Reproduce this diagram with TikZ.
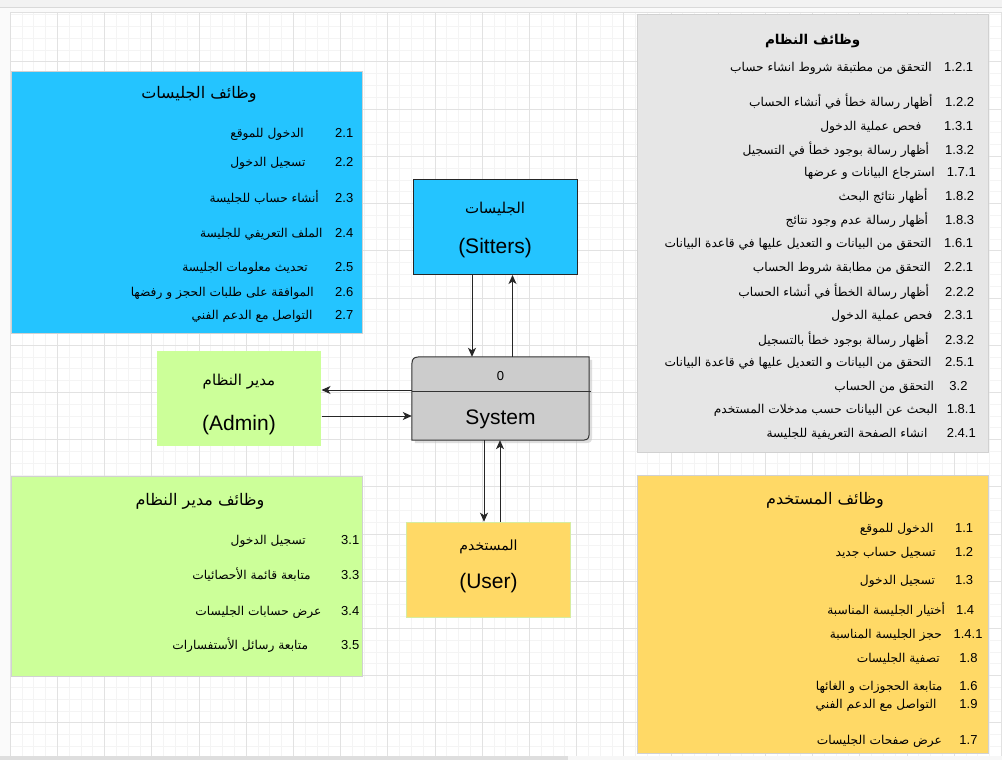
\documentclass[tikz,border=0pt]{standalone}
\usepackage{fontspec}
\setmainfont{Liberation Sans}
\newfontfamily\arabicfont[Script=Arabic]{DejaVu Sans}
\TeXXeTstate=1
\usetikzlibrary{arrows.meta}

\definecolor{sitterblue}{RGB}{36,196,255}
\definecolor{admingreen}{RGB}{204,255,153}
\definecolor{useryellow}{RGB}{255,217,102}
\definecolor{sysgray}{RGB}{230,230,230}
\definecolor{procgray}{RGB}{204,204,204}
\definecolor{gridminor}{RGB}{244,244,244}
\definecolor{gridmajor}{RGB}{226,226,226}

\newcommand\artext[1]{{\beginR #1\endR}}

\begin{document}
\begin{tikzpicture}[x=1pt, y=-1pt,
    funcbox/.style={draw=black!18, line width=1.2pt, anchor=north west, inner sep=0pt},
    entity/.style={line width=1pt, inner sep=0pt, minimum width=164pt, minimum height=95pt},
    num/.style={anchor=base east, inner sep=0pt, font=\fontsize{13}{15}\selectfont},
    item/.style={anchor=base east, inner sep=0pt, font=\fontsize{12.2}{14}\arabicfont},
    boxtitle/.style={anchor=base, inner sep=0pt, font=\fontsize{15}{18}\arabicfont},
    artitle/.style={anchor=base, inner sep=0pt, font=\fontsize{16}{19}\arabicfont},
    entlabel/.style={anchor=base, inner sep=0pt, font=\fontsize{21}{25}\selectfont},
    flow/.style={-{Stealth[length=9pt, width=8pt, inset=2.5pt]}, line width=1pt, draw=black!85}
  ]
  \useasboundingbox (0,0) rectangle (1002,760);

  % canvas and grid
  \fill[white] (0,0) rectangle (1002,760);
  \fill[black!5] (0,0) rectangle (1002,7);
  \fill[black!2] (0,7) rectangle (1002,13);
  \fill[black!2] (0,13) rectangle (10,760);
  \draw[black!15] (0,7) -- (1002,7);
  \foreach \i in {0,...,84} \draw[gridminor] (10+\i*11.8,13) -- (10+\i*11.8,756);
  \foreach \j in {0,...,62} \draw[gridminor] (10,14.5+\j*11.8) -- (1002,14.5+\j*11.8);
  \foreach \i in {1,...,21} \draw[gridmajor] (10+\i*47.2,13) -- (10+\i*47.2,756);
  \foreach \j in {1,...,15} \draw[gridmajor] (10,14.5+\j*47.2) -- (1002,14.5+\j*47.2);
  \draw[black!12, line width=1pt] (10,760) -- (10,13) -- (1002,13);
  \fill[black!3] (0,756) rectangle (1002,760);
  \fill[black!13] (0,756) rectangle (568,760);

  % sitters functions
  \node[funcbox, fill=sitterblue, minimum width=351pt, minimum height=262pt] (sitfunc) at (11,71) {};
  \node[artitle] (sittitle) at (199,98.5) {\artext{وظائف الجليسات}};
  \foreach \nm/\txt/\y/\rx [count=\i] in {
      2.1/الدخول للموقع/133.3/304,
      2.2/تسجيل الدخول/161.7/305.7,
      2.3/أنشاء حساب للجليسة/197.7/319,
      2.4/الملف التعريفي للجليسة/233.3/322.7,
      2.5/تحديث معلومات الجليسة/267.3/308,
      2.6/الموافقة على طلبات الحجز و رفضها/291.7/314,
      2.7/التواصل مع الدعم الفني/315/312.7}
  {
    \node[num] (sitnum\i) at (353.5,\y+4.6) {\nm};
    \node[item] (sittxt\i) at (\rx,\y+4.6) {\artext{\txt}};
  }

  % system functions
  \node[funcbox, fill=sysgray, minimum width=351pt, minimum height=438pt] (sysfunc) at (637,14) {};
  \node[artitle, font=\fontsize{13.5}{16}\arabicfont\bfseries] (systitle) at (812.7,45) {\artext{وظائف النظام}};
  \foreach \nm/\txt/\y/\rx/\nx [count=\i] in {
      1.2.1/التحقق من مطتبقة شروط انشاء حساب/67.3/932/973.3,
      1.2.2/أظهار رسالة خطأ في أنشاء الحساب/101.7/932.7/974.3,
      1.3.1/فحص عملية الدخول/125.7/921.7/973.3,
      1.3.2/أظهار رسالة بوجود خطأ في التسجيل/150/929.3/974.3,
      1.7.1/استرجاع البيانات و عرضها/171.7/935/976,
      1.8.2/أظهار نتائج البحث/196/927.7/974.3,
      1.8.3/أظهار رسالة عدم وجود نتائج/220/928.3/974.3,
      1.6.1/التحقق من البيانات و التعديل عليها في قاعدة البيانات/243.3/931.7/973.3,
      2.2.1/التحقق من مطابقة شروط الحساب/267.3/931/973.3,
      2.2.2/أظهار رسالة الخطأ في أنشاء الحساب/291.7/929.3/974.3,
      2.3.1/فحص عملية الدخول/315/932.7/973.3,
      2.3.2/أظهار رسالة بوجود خطأ بالتسجيل/340/928.7/974.3,
      2.5.1/التحقق من البيانات و التعديل عليها في قاعدة البيانات/361.7/931.7/974.3,
      3.2/التحقق من الحساب/386/934.3/967.7,
      1.8.1/البحث عن البيانات حسب مدخلات المستخدم/409.3/937.7/976,
      2.4.1/انشاء الصفحة التعريفية للجليسة/432.7/927.7/976}
  {
    \node[num] (sysnum\i) at (\nx,\y+4.6) {\nm};
    \node[item] (systxt\i) at (\rx,\y+4.6) {\artext{\txt}};
  }

  % admin functions
  \node[funcbox, fill=admingreen, minimum width=351pt, minimum height=200pt] (admfunc) at (11,476) {};
  \node[artitle] (admtitle) at (200,505.5) {\artext{وظائف مدير النظام}};
  \foreach \nm/\txt/\y/\rx [count=\i] in {
      3.1/تسجيل الدخول/540/306,
      3.3/متابعة قائمة الأحصائيات/575/311,
      3.4/عرض حسابات الجليسات/611/321.7,
      3.5/متابعة رسائل الأستفسارات/645/308.3}
  {
    \node[num] (admnum\i) at (359.5,\y+4.6) {\nm};
    \node[item] (admtxt\i) at (\rx,\y+4.6) {\artext{\txt}};
  }

  % user functions
  \node[funcbox, fill=useryellow, minimum width=351pt, minimum height=278pt] (usrfunc) at (637,475) {};
  \node[artitle] (usrtitle) at (825,504) {\artext{وظائف المستخدم}};
  \foreach \nm/\txt/\y/\rx/\nx [count=\i] in {
      1.1/الدخول للموقع/528.3/933.7/973.3,
      1.2/تسجيل حساب جديد/551.7/936/973.3,
      1.3/تسجيل الدخول/580/935.3/973.3,
      1.4/أختيار الجليسة المناسبة/610/945.3/974.3,
      1.4.1/حجز الجليسة المناسبة/634/942/982.7,
      1.8/تصفية الجليسات/657.7/940/977.7,
      1.6/متابعة الحجوزات و الغائها/686/942.7/977.7,
      1.9/التواصل مع الدعم الفني/704.3/936.7/977.7,
      1.7/عرض صفحات الجليسات/740/942/977.7}
  {
    \node[num] (usrnum\i) at (\nx,\y+4.6) {\nm};
    \node[item] (usrtxt\i) at (\rx,\y+4.6) {\artext{\txt}};
  }

  % external entities
  \node[entity, draw=black!85, fill=sitterblue] (sitters) at (495,227) {};
  \node[boxtitle] (sitters ar) at ([yshift=13.7pt]sitters.center) {\artext{الجليسات}};
  \node[entlabel] (sitters en) at ([yshift=-26.3pt]sitters.center) {(Sitters)};

  \node[entity, fill=admingreen] (admin) at (239,398.5) {};
  \node[boxtitle] (admin ar) at ([yshift=13.5pt]admin.center) {\artext{مدير النظام}};
  \node[entlabel] (admin en) at ([yshift=-31.5pt]admin.center) {(Admin)};

  \node[entity, draw={rgb,255:red,214;green,236;blue,160}, fill=useryellow] (user) at (488.5,569.7) {};
  \node[boxtitle, font=\fontsize{14}{17}\arabicfont] (user ar) at ([yshift=19.7pt]user.center) {\artext{المستخدم}};
  \node[entlabel] (user en) at ([yshift=-18.6pt]user.center) {(User)};

  % process 0
  \node[minimum width=177pt, minimum height=83pt, inner sep=0pt] (system) at (500.5,398.5) {};
  \fill[black!25, opacity=0.5] ([xshift=3pt,yshift=-3pt]system.south west) -- ([xshift=3pt,yshift=-17pt]system.north west)
    .. controls ([xshift=3pt,yshift=-3pt]system.north west) .. ([xshift=17pt,yshift=-3pt]system.north west)
    -- ([xshift=3pt,yshift=-3pt]system.north east) -- ([xshift=3pt,yshift=9pt]system.south east)
    .. controls ([xshift=3pt,yshift=-3pt]system.south east) .. ([xshift=-9pt,yshift=-3pt]system.south east) -- cycle;
  \draw[fill=procgray, draw=black!80, line width=1pt] (system.south west) -- ([yshift=-14pt]system.north west)
    .. controls (system.north west) .. ([xshift=14pt]system.north west)
    -- (system.north east) -- ([yshift=12pt]system.south east)
    .. controls (system.south east) .. ([xshift=-12pt]system.south east) -- cycle;
  \draw[black!80, line width=1pt] ([yshift=7.5pt]system.west) -- ([yshift=7.5pt, xshift=2pt]system.east);
  \node[anchor=base, inner sep=0pt, font=\fontsize{13}{15}\selectfont] (sysid) at ([yshift=18.5pt]system.center) {0};
  \node[entlabel] (sysname) at ([yshift=-25.8pt]system.center) {System};

  % data flows
  \draw[flow] ([xshift=-23pt]sitters.south) -- ([xshift=-23pt]sitters.south |- system.north);
  \draw[flow] ([xshift=12pt]system.north) -- ([xshift=12pt]system.north |- sitters.south);
  \draw[flow] ([yshift=8.5pt]system.west) -- ([yshift=8.5pt]system.west -| admin.east);
  \draw[flow] ([yshift=-17.5pt]admin.east) -- ([yshift=-17.5pt]admin.east -| system.west);
  \draw[flow] ([xshift=-16.5pt]system.south) -- ([xshift=-16.5pt]system.south |- user.north);
  \draw[flow] ([xshift=11.5pt]user.north) -- ([xshift=11.5pt]user.north |- system.south);
\end{tikzpicture}
\end{document}
